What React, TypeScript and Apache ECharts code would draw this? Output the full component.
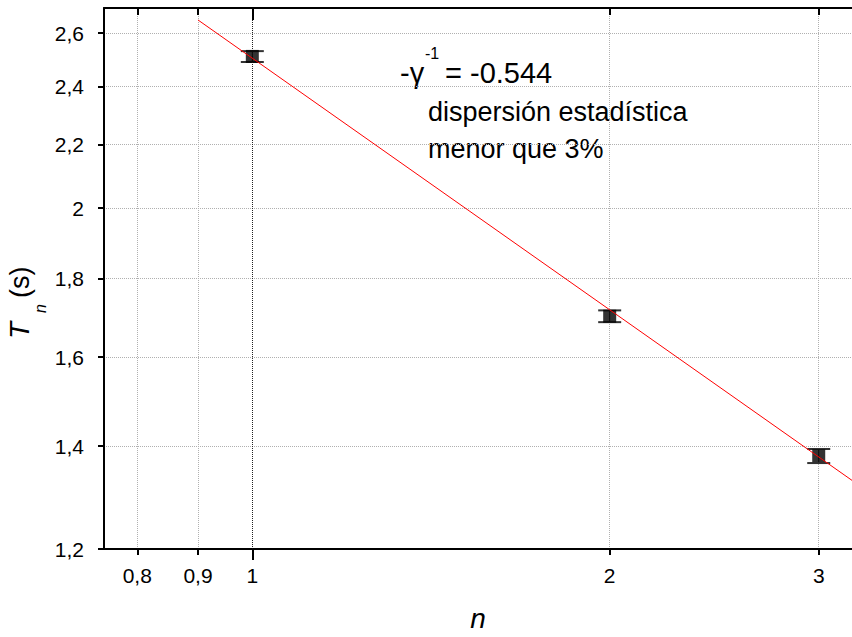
import React, { useEffect, useRef } from 'react';
import * as echarts from 'echarts';

// ---- data ----
const nValues = [1, 2, 3];
const tValues = [2.511, 1.701, 1.38];
const tUpper = [2.531, 1.716, 1.394];
const tLower = [2.49, 1.686, 1.365];
const fitN = [0.9, 3.2];
const fitT = [2.652, 1.33];
const xTicks = [0.8, 0.9, 1, 2, 3];
const xMajorTicks = [1];
const yTicks = [1.2, 1.4, 1.6, 1.8, 2, 2.2, 2.4, 2.6];
const xRange = [0.75, 3.2];
const yRange = [1.2, 2.7];

const FONT = 'Liberation Sans, Arial, Helvetica, sans-serif';
const lg = (v: number) => Math.log10(v);
const fmt = (v: number) => String(parseFloat(Math.pow(10, v).toFixed(3))).replace('.', ',');

function buildOption(): any {
  const xMin = lg(xRange[0]);
  const xMax = lg(xRange[1]);
  const yMin = lg(yRange[0]);
  const yMax = lg(yRange[1]);
  const black = '#000';
  const grid = '#b0b0b0';
  const baseX = {
    type: 'value',
    min: xMin,
    max: xMax,
  };
  const txt = (extra: any) => ({
    fontFamily: FONT,
    fill: '#000',
    textAlign: 'left',
    align: 'left',
    textVerticalAlign: 'middle',
    verticalAlign: 'middle',
    ...extra,
  });
  return {
    animation: false,
    backgroundColor: '#fff',
    grid: { left: 104, top: 8, width: 750, height: 547, containLabel: false },
    xAxis: [
      {
        ...baseX,
        position: 'bottom',
        name: 'n',
        nameLocation: 'middle',
        nameGap: 55,
        nameTextStyle: { fontFamily: FONT, fontSize: 28, fontStyle: 'italic', color: black },
        axisLine: { show: true, onZero: false, lineStyle: { color: black, width: 2 } },
        axisTick: { show: true, customValues: xTicks.map(lg), length: 6, lineStyle: { color: black, width: 2 } },
        axisLabel: {
          customValues: xTicks.map(lg),
          formatter: fmt,
          fontFamily: FONT,
          fontSize: 21,
          color: black,
          margin: 16,
        },
        splitLine: { show: true, lineStyle: { color: grid, type: 'dotted', width: 1 } },
      },
      {
        ...baseX,
        position: 'top',
        axisLine: { show: true, onZero: false, lineStyle: { color: black, width: 2 } },
        axisTick: { show: true, inside: true, customValues: xTicks.map(lg), length: 7, lineStyle: { color: black, width: 2 } },
        axisLabel: { show: false },
        splitLine: { show: false },
      },
      {
        ...baseX,
        position: 'bottom',
        axisLine: { show: false, onZero: false },
        axisTick: { show: true, customValues: xMajorTicks.map(lg), length: 11, lineStyle: { color: black, width: 2 } },
        axisLabel: { show: false },
        splitLine: { show: true, lineStyle: { color: '#222', type: 'dotted', width: 1 } },
      },
      {
        ...baseX,
        position: 'top',
        axisLine: { show: false, onZero: false },
        axisTick: { show: true, inside: true, customValues: xMajorTicks.map(lg), length: 12, lineStyle: { color: black, width: 2 } },
        axisLabel: { show: false },
        splitLine: { show: false },
      },
    ],
    yAxis: {
      type: 'value',
      min: yMin,
      max: yMax,
      axisLine: { show: true, onZero: false, lineStyle: { color: black, width: 2 } },
      axisTick: { show: true, customValues: yTicks.map(lg), length: 6, lineStyle: { color: black, width: 2 } },
      axisLabel: {
        customValues: yTicks.map(lg),
        formatter: fmt,
        fontFamily: FONT,
        fontSize: 21,
        color: black,
        margin: 20,
      },
      splitLine: { show: true, lineStyle: { color: grid, type: 'dotted', width: 1 } },
    },
    graphic: [
      {
        type: 'group',
        x: 19.5,
        y: 339,
        rotation: Math.PI / 2,
        children: [
          { type: 'text', x: 0, y: 0, style: txt({ text: 'T', fontSize: 28, fontStyle: 'italic' }) },
          { type: 'text', x: 26, y: 20.5, style: txt({ text: 'n', fontSize: 16, fontStyle: 'italic' }) },
          { type: 'text', x: 41, y: 0, style: txt({ text: '(s)', fontSize: 27 }) },
        ],
      },
      { type: 'text', x: 400, y: 73, style: txt({ text: '-γ', fontSize: 29 }) },
      { type: 'text', x: 425, y: 53, style: txt({ text: '-1', fontSize: 16 }) },
      { type: 'text', x: 445, y: 73, style: txt({ text: '= -0.544', fontSize: 29 }) },
      { type: 'text', x: 428, y: 112, style: txt({ text: 'dispersión estadística', fontSize: 27 }) },
      { type: 'text', x: 428, y: 149, style: txt({ text: 'menor que 3%', fontSize: 27 }) },
    ],
    series: [
      {
        type: 'custom',
        name: 'error',
        xAxisIndex: 0,
        data: nValues.map((n, i) => [lg(n), lg(tLower[i]), lg(tUpper[i])]),
        encode: { x: 0, y: [1, 2] },
        renderItem: (params: any, api: any) => {
          const x = api.value(0);
          const lo = api.coord([x, api.value(1)]);
          const hi = api.coord([x, api.value(2)]);
          const hw = 11.5;
          const st = { stroke: '#333', lineWidth: 2 };
          return {
            type: 'group',
            children: [
              { type: 'line', shape: { x1: lo[0], y1: lo[1], x2: hi[0], y2: hi[1] }, style: { stroke: '#333', lineWidth: 1 } },
              { type: 'line', shape: { x1: lo[0] - hw, y1: lo[1], x2: lo[0] + hw, y2: lo[1] }, style: st },
              { type: 'line', shape: { x1: hi[0] - hw, y1: hi[1], x2: hi[0] + hw, y2: hi[1] }, style: st },
            ],
          };
        },
        z: 3,
      },
      {
        type: 'scatter',
        name: 'T',
        xAxisIndex: 0,
        data: nValues.map((n, i) => [lg(n), lg(tValues[i])]),
        symbol: 'rect',
        symbolSize: 13,
        itemStyle: { color: '#000' },
        z: 4,
      },
      {
        type: 'line',
        name: 'fit',
        xAxisIndex: 0,
        data: fitN.map((n, i) => [lg(n), lg(fitT[i])]),
        symbol: 'none',
        lineStyle: { color: '#ff0000', width: 1 },
        z: 5,
      },
    ],
  };
}

export default function App() {
  const ref = useRef<HTMLDivElement>(null);
  useEffect(() => {
    if (!ref.current) return;
    const chart = echarts.init(ref.current, null, { renderer: 'svg' });
    chart.setOption(buildOption());
    return () => chart.dispose();
  }, []);
  return (
    <div
      ref={ref}
      style={{ position: 'absolute', left: 0, top: 0, width: 852, height: 637, background: '#fff' }}
    />
  );
}
